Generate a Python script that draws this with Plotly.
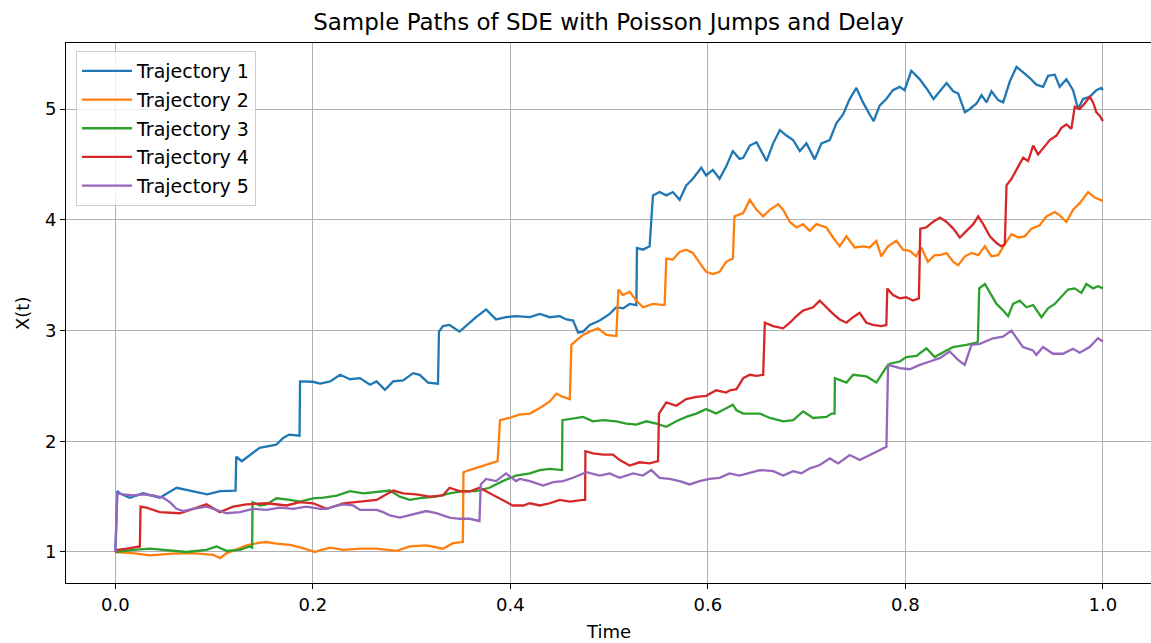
import plotly.graph_objects as go

# ---------------- data ----------------
T1 = [0, 0.002, 0.0044, 0.0145, 0.028, 0.045, 0.062, 0.079, 0.093, 0.106, 0.1217, 0.1224, 0.128, 0.146,
      0.163, 0.17, 0.176, 0.1865, 0.187, 0.2, 0.2074, 0.2175, 0.2276, 0.2376, 0.2477, 0.2578, 0.2645,
      0.273, 0.2813, 0.2914, 0.3015, 0.3082, 0.3166, 0.3267, 0.3277, 0.3317, 0.3384, 0.3485, 0.3586,
      0.3653, 0.3754, 0.3855, 0.3956, 0.4056, 0.4197, 0.4298, 0.4399, 0.45, 0.4568, 0.4635, 0.4686,
      0.4736, 0.4804, 0.4905, 0.5006, 0.5073, 0.5141, 0.5208, 0.5276, 0.5282, 0.5343, 0.541, 0.5444,
      0.5511, 0.5579, 0.5646, 0.5714, 0.5781, 0.5848, 0.5933, 0.5983, 0.605, 0.6118, 0.6185, 0.6253,
      0.632, 0.6358, 0.6425, 0.6493, 0.656, 0.6594, 0.6661, 0.6729, 0.6796, 0.6863, 0.6931, 0.6998,
      0.7082, 0.715, 0.7234, 0.7301, 0.7369, 0.7436, 0.7504, 0.7571, 0.7638, 0.7679, 0.7739, 0.7807,
      0.7874, 0.7942, 0.7992, 0.806, 0.8144, 0.8211, 0.8285, 0.8346, 0.8417, 0.8485, 0.8535, 0.8603,
      0.8653, 0.8721, 0.8771, 0.8822, 0.8872, 0.894, 0.899, 0.9058, 0.9125, 0.9193, 0.926, 0.9327,
      0.9395, 0.9445, 0.9513, 0.9563, 0.9631, 0.9698, 0.9749, 0.9799, 0.9867, 0.9934, 0.9984, 1.0]
X1 = [1.0, 1.55, 1.53, 1.49, 1.53, 1.49, 1.58, 1.55, 1.52, 1.55, 1.555, 1.86, 1.82, 1.94,
      1.97, 2.03, 2.06, 2.05, 2.54, 2.537, 2.52, 2.54, 2.60, 2.56, 2.57, 2.51, 2.54,
      2.465, 2.54, 2.55, 2.615, 2.60, 2.53, 2.52, 2.99, 3.04, 3.05, 2.99, 3.07,
      3.12, 3.19, 3.10, 3.12, 3.13, 3.12, 3.15, 3.12, 3.13, 3.10, 3.09, 2.98,
      2.99, 3.05, 3.09, 3.15, 3.21, 3.20, 3.24, 3.23, 3.745, 3.73, 3.76, 4.22,
      4.25, 4.22, 4.25, 4.18, 4.31, 4.37, 4.47, 4.40, 4.45, 4.37, 4.48, 4.62,
      4.55, 4.56, 4.67, 4.70, 4.59, 4.53, 4.69, 4.81, 4.76, 4.72, 4.62, 4.69,
      4.545, 4.69, 4.72, 4.87, 4.95, 5.09, 5.19, 5.06, 4.95, 4.89, 5.03, 5.09,
      5.17, 5.20, 5.17, 5.345, 5.27, 5.19, 5.09, 5.16, 5.235, 5.16, 5.14, 4.97,
      5.00, 5.05, 5.125, 5.06, 5.16, 5.08, 5.06, 5.25, 5.38, 5.33, 5.28, 5.22,
      5.20, 5.30, 5.31, 5.20, 5.27, 5.17, 5.00, 5.09, 5.11, 5.17, 5.19, 5.17]

T2 = [0, 0.018, 0.035, 0.058, 0.0785, 0.099, 0.106, 0.1128, 0.126, 0.133, 0.1463, 0.153, 0.163,
      0.1767, 0.19, 0.202, 0.207, 0.2175, 0.2309, 0.2477, 0.2645, 0.2847, 0.2981, 0.3149, 0.3317,
      0.3418, 0.3519, 0.3525, 0.3586, 0.3687, 0.3788, 0.3871, 0.3895, 0.3989, 0.409, 0.4197, 0.4298,
      0.4399, 0.4467, 0.4534, 0.4602, 0.4618, 0.4669, 0.4736, 0.4804, 0.4888, 0.4972, 0.5073, 0.5094,
      0.5141, 0.5208, 0.5276, 0.5343, 0.5444, 0.5562, 0.5579, 0.5646, 0.5714, 0.5781, 0.5848, 0.5933,
      0.5983, 0.605, 0.6118, 0.6185, 0.6253, 0.6269, 0.6358, 0.6425, 0.6493, 0.656, 0.6627, 0.6712,
      0.6762, 0.683, 0.6897, 0.6964, 0.7032, 0.7099, 0.72, 0.7268, 0.7335, 0.7403, 0.7487, 0.7571,
      0.7638, 0.7706, 0.7756, 0.7824, 0.7908, 0.7976, 0.8043, 0.811, 0.8161, 0.8228, 0.8296, 0.835,
      0.8417, 0.8485, 0.8535, 0.8603, 0.867, 0.8738, 0.8805, 0.8872, 0.894, 0.9007, 0.9075, 0.9142,
      0.9209, 0.9277, 0.9361, 0.9428, 0.9513, 0.9563, 0.9631, 0.9698, 0.9765, 0.985, 0.9917, 1.0]
X2 = [1.0, 0.99, 0.97, 0.985, 0.99, 0.975, 0.945, 0.99, 1.035, 1.06, 1.085, 1.09, 1.075,
      1.065, 1.035, 1.0, 1.015, 1.04, 1.02, 1.03, 1.03, 1.01, 1.05, 1.06, 1.03,
      1.08, 1.09, 1.72, 1.74, 1.77, 1.80, 1.82, 2.19, 2.21, 2.24, 2.25, 2.30,
      2.36, 2.43, 2.40, 2.38, 2.87, 2.91, 2.96, 2.99, 3.02, 2.96, 2.95, 3.37,
      3.32, 3.35, 3.27, 3.21, 3.24, 3.23, 3.65, 3.64, 3.71, 3.73, 3.70, 3.59,
      3.53, 3.51, 3.53, 3.62, 3.65, 4.03, 4.06, 4.18, 4.09, 4.03, 4.09, 4.14,
      4.09, 3.98, 3.93, 3.96, 3.90, 3.96, 3.93, 3.84, 3.76, 3.85, 3.75, 3.76,
      3.75, 3.81, 3.67, 3.76, 3.81, 3.73, 3.72, 3.67, 3.75, 3.62, 3.68, 3.68,
      3.70, 3.62, 3.59, 3.67, 3.70, 3.68, 3.76, 3.67, 3.68, 3.78, 3.87, 3.84,
      3.85, 3.92, 3.95, 4.03, 4.07, 4.04, 3.98, 4.09, 4.15, 4.25, 4.20, 4.17]

T3 = [0, 0.018, 0.035, 0.0451, 0.0585, 0.072, 0.0923, 0.1024, 0.1125, 0.126, 0.1362, 0.1385, 0.1389,
      0.1463, 0.153, 0.1631, 0.1766, 0.1868, 0.2003, 0.2108, 0.2242, 0.2376, 0.2511, 0.2645, 0.278,
      0.288, 0.2981, 0.3116, 0.325, 0.3384, 0.3519, 0.3653, 0.3788, 0.3922, 0.4056, 0.4197, 0.4298,
      0.4399, 0.45, 0.4523, 0.4527, 0.46, 0.4736, 0.4837, 0.4939, 0.5073, 0.5174, 0.5276, 0.5377,
      0.5478, 0.5579, 0.568, 0.5781, 0.5882, 0.5983, 0.6084, 0.6185, 0.6253, 0.629, 0.6358, 0.6425,
      0.6527, 0.6628, 0.6763, 0.6864, 0.6965, 0.7066, 0.7201, 0.7252, 0.7283, 0.7286, 0.7404, 0.7471,
      0.7606, 0.7707, 0.7808, 0.7842, 0.7943, 0.801, 0.8112, 0.8213, 0.8297, 0.8415, 0.8482, 0.8617,
      0.8721, 0.8734, 0.8748, 0.8805, 0.8856, 0.8923, 0.899, 0.9041, 0.9091, 0.9159, 0.9226, 0.9294,
      0.9378, 0.9445, 0.9513, 0.958, 0.9647, 0.9715, 0.9782, 0.9833, 0.9901, 0.9951, 1.0]
X3 = [1.0, 1.02, 1.03, 1.02, 1.01, 1.0, 1.02, 1.05, 1.01, 1.02, 1.05, 1.04, 1.45,
      1.42, 1.43, 1.485, 1.47, 1.455, 1.485, 1.49, 1.51, 1.55, 1.53, 1.54, 1.555,
      1.50, 1.47, 1.49, 1.50, 1.53, 1.55, 1.55, 1.58, 1.64, 1.69, 1.71, 1.74,
      1.75, 1.74, 1.74, 2.19, 2.20, 2.22, 2.18, 2.19, 2.18, 2.16, 2.15, 2.18,
      2.16, 2.13, 2.18, 2.22, 2.25, 2.29, 2.25, 2.30, 2.33, 2.28, 2.25, 2.25,
      2.25, 2.21, 2.18, 2.19, 2.27, 2.21, 2.22, 2.25, 2.25, 2.57, 2.53, 2.60,
      2.585, 2.53, 2.67, 2.70, 2.72, 2.76, 2.77, 2.84, 2.76, 2.82, 2.85, 2.87,
      2.89, 2.90, 3.38, 3.42, 3.34, 3.24, 3.18, 3.13, 3.24, 3.27, 3.21, 3.23,
      3.12, 3.20, 3.24, 3.31, 3.37, 3.38, 3.34, 3.42, 3.38, 3.40, 3.38]

T4 = [0, 0.0024, 0.0113, 0.0214, 0.0248, 0.0255, 0.0315, 0.045, 0.0585, 0.0652, 0.0788, 0.0923,
      0.1058, 0.1193, 0.1328, 0.153, 0.1733, 0.1868, 0.2003, 0.2141, 0.2309, 0.2477, 0.2645, 0.2813,
      0.2914, 0.3048, 0.3183, 0.3317, 0.3384, 0.3485, 0.3586, 0.3687, 0.3788, 0.3922, 0.4023, 0.413,
      0.4197, 0.4298, 0.4399, 0.45, 0.4602, 0.4736, 0.4757, 0.476, 0.4837, 0.4939, 0.5039, 0.5107,
      0.5208, 0.5309, 0.541, 0.5495, 0.5505, 0.5579, 0.568, 0.5781, 0.5882, 0.5983, 0.6084, 0.6185,
      0.6223, 0.629, 0.6358, 0.6425, 0.6493, 0.656, 0.6577, 0.6661, 0.6762, 0.683, 0.6897, 0.6964,
      0.7066, 0.7133, 0.72, 0.7268, 0.7335, 0.7403, 0.747, 0.7537, 0.7605, 0.7672, 0.7756, 0.7807,
      0.7817, 0.7874, 0.7942, 0.8009, 0.8076, 0.8137, 0.8151, 0.8211, 0.8279, 0.835, 0.8417, 0.8485,
      0.8552, 0.862, 0.8687, 0.8738, 0.8788, 0.8856, 0.8923, 0.8973, 0.9007, 0.9024, 0.9075, 0.9142,
      0.9193, 0.9243, 0.9294, 0.9344, 0.9395, 0.9462, 0.953, 0.958, 0.9631, 0.9681, 0.9715, 0.9765,
      0.9816, 0.9867, 0.9901, 0.9934, 0.9968, 1.0]
X4 = [1.0, 1.02, 1.03, 1.04, 1.05, 1.41, 1.40, 1.36, 1.35, 1.35, 1.39, 1.43,
      1.36, 1.41, 1.43, 1.44, 1.42, 1.45, 1.44, 1.39, 1.44, 1.455, 1.47, 1.555,
      1.53, 1.52, 1.50, 1.51, 1.58, 1.55, 1.545, 1.58, 1.53, 1.47, 1.42, 1.42,
      1.44, 1.42, 1.44, 1.47, 1.455, 1.47, 1.47, 1.91, 1.89, 1.88, 1.88, 1.83,
      1.78, 1.81, 1.80, 1.82, 2.25, 2.35, 2.32, 2.38, 2.40, 2.41, 2.46, 2.44,
      2.46, 2.47, 2.57, 2.60, 2.59, 2.60, 3.07, 3.04, 3.02, 3.07, 3.13, 3.18,
      3.21, 3.27, 3.21, 3.15, 3.10, 3.07, 3.12, 3.16, 3.07, 3.05, 3.04, 3.05,
      3.38, 3.32, 3.29, 3.30, 3.27, 3.29, 3.92, 3.93, 3.98, 4.02, 3.98, 3.92,
      3.84, 3.90, 3.96, 4.03, 3.96, 3.85, 3.79, 3.76, 3.78, 4.31, 4.37, 4.48,
      4.56, 4.53, 4.67, 4.59, 4.65, 4.72, 4.76, 4.83, 4.86, 4.82, 5.02, 5.00,
      5.05, 5.11, 5.06, 4.97, 4.94, 4.89]

T5 = [0, 0.0019, 0.0079, 0.018, 0.0281, 0.0382, 0.0484, 0.0551, 0.0619, 0.0686, 0.0788, 0.0923,
      0.1058, 0.1125, 0.126, 0.1395, 0.153, 0.1665, 0.18, 0.1936, 0.2071, 0.2141, 0.2206, 0.2307,
      0.2408, 0.2477, 0.2543, 0.2645, 0.2712, 0.278, 0.2881, 0.2981, 0.3149, 0.325, 0.3384, 0.3485,
      0.3586, 0.3687, 0.37, 0.3754, 0.3855, 0.3956, 0.4056, 0.4096, 0.4197, 0.4332, 0.4433, 0.4534,
      0.4635, 0.477, 0.4905, 0.5006, 0.5107, 0.5242, 0.5343, 0.5427, 0.5511, 0.5612, 0.5714, 0.5815,
      0.5916, 0.6017, 0.6118, 0.6219, 0.632, 0.6527, 0.6662, 0.6763, 0.6864, 0.6948, 0.7033, 0.7134,
      0.7235, 0.7319, 0.7437, 0.7538, 0.764, 0.7741, 0.7808, 0.7825, 0.7876, 0.7943, 0.8044, 0.8146,
      0.8247, 0.8348, 0.8449, 0.8534, 0.8601, 0.8669, 0.8753, 0.8888, 0.8989, 0.9073, 0.9191, 0.9292,
      0.9326, 0.9394, 0.9495, 0.9596, 0.9697, 0.9765, 0.9866, 0.995, 1.0]
X5 = [1.0, 1.53, 1.52, 1.51, 1.52, 1.51, 1.49, 1.45, 1.39, 1.37, 1.39, 1.41,
      1.37, 1.35, 1.36, 1.39, 1.38, 1.40, 1.39, 1.41, 1.39, 1.39, 1.41, 1.43,
      1.42, 1.38, 1.38, 1.38, 1.36, 1.33, 1.31, 1.33, 1.37, 1.35, 1.31, 1.30,
      1.30, 1.28, 1.61, 1.66, 1.64, 1.71, 1.64, 1.66, 1.64, 1.60, 1.63, 1.64,
      1.67, 1.72, 1.69, 1.71, 1.67, 1.71, 1.69, 1.74, 1.67, 1.66, 1.64, 1.61,
      1.64, 1.66, 1.67, 1.71, 1.69, 1.74, 1.73, 1.69, 1.73, 1.71, 1.755, 1.785,
      1.845, 1.80, 1.875, 1.83, 1.875, 1.92, 1.95, 2.69, 2.675, 2.66, 2.65, 2.69,
      2.72, 2.75, 2.81, 2.735, 2.69, 2.87, 2.88, 2.93, 2.945, 3.00, 2.85, 2.82,
      2.78, 2.85, 2.79, 2.79, 2.835, 2.80, 2.85, 2.93, 2.90]

NAMES = ["Trajectory 1", "Trajectory 2", "Trajectory 3", "Trajectory 4", "Trajectory 5"]
COLORS = ["#1f77b4", "#ff7f0e", "#2ca02c", "#d62728", "#9467bd"]
X_TICKS = [0.0, 0.2, 0.4, 0.6, 0.8, 1.0]
Y_TICKS = [1, 2, 3, 4, 5]
TITLE = "Sample Paths of SDE with Poisson Jumps and Delay"
X_LABEL = "Time"
Y_LABEL = "X(t)"

SERIES = [(T1, X1), (T2, X2), (T3, X3), (T4, X4), (T5, X5)]

# ---------------- figure ----------------
W, H = 1151, 643
ML, MR, MT, MB = 66, 0, 43, 60
FONT = "DejaVu Sans"

fig = go.Figure()
for i, (t, x) in enumerate(SERIES):
    fig.add_trace(go.Scatter(
        x=t, y=x, mode="lines", name=NAMES[i],
        line=dict(color=COLORS[i], width=2.3),
        legendgroup=f"g{i}",
    ))

plot_w = W - ML - MR
px_per_unit = 987.5
x_lo = -0.05
x_hi = x_lo + plot_w / px_per_unit

axis_common = dict(
    showgrid=True, gridcolor="#b0b0b0", gridwidth=1,
    zeroline=False,
    showline=True, linecolor="black", linewidth=1,
    ticks="outside", ticklen=5, tickwidth=1, tickcolor="black",
    tickfont=dict(family=FONT, size=18, color="black"),
)

fig.update_layout(
    width=W, height=H,
    margin=dict(l=ML, r=MR, t=MT, b=MB, pad=0),
    paper_bgcolor="white", plot_bgcolor="white",
    font=dict(family=FONT, color="black"),
    title=dict(text=TITLE, x=0.5, xanchor="center", xref="paper",
               y=1 - 22 / H, yanchor="middle", yref="container",
               font=dict(family=FONT, size=23, color="black")),
    xaxis=dict(range=[x_lo, x_hi], tickvals=X_TICKS, tickformat=".1f",
               mirror=True, **axis_common),
    yaxis=dict(range=[0.72, 5.596], tickvals=Y_TICKS, **axis_common),
    legend=dict(
        x=(76 - ML) / plot_w, y=(583 - 51) / 540, xanchor="left", yanchor="top",
        bgcolor="rgba(255,255,255,0.8)", bordercolor="#cccccc", borderwidth=1,
        font=dict(family=FONT, size=19, color="black"),
        tracegroupgap=1, traceorder="grouped", itemwidth=50,
    ),
    annotations=[
        dict(text=X_LABEL, xref="paper", yref="paper", x=0.5, y=-(631 - 583) / 540,
             xanchor="center", yanchor="middle", showarrow=False,
             font=dict(family=FONT, size=18, color="black")),
        dict(text=Y_LABEL, xref="paper", yref="paper", x=-(66 - 22) / plot_w, y=0.5,
             xanchor="center", yanchor="middle", showarrow=False, textangle=-90,
             font=dict(family=FONT, size=18, color="black")),
    ],
)

fig.write_html("out.html")
